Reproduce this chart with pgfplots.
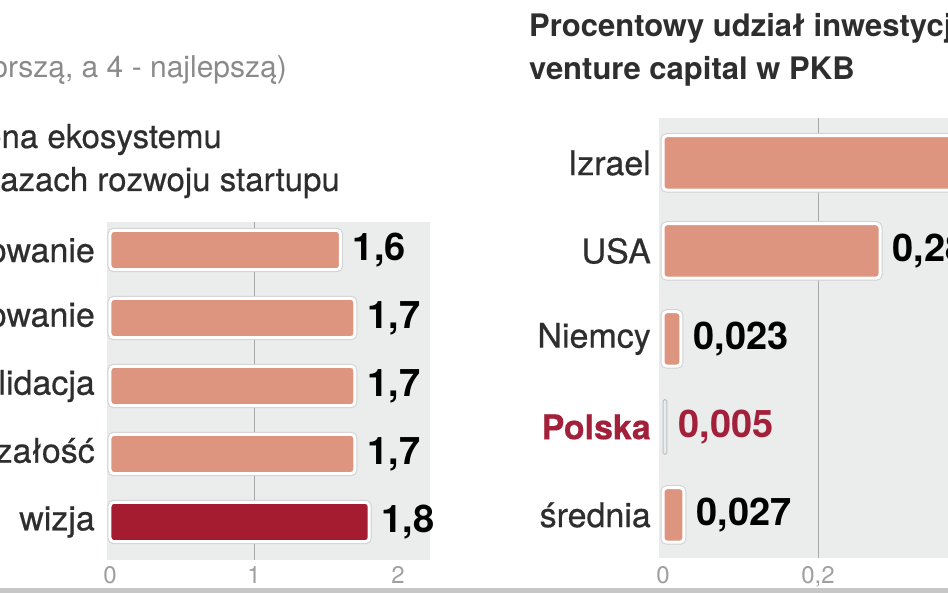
\documentclass[border=0pt]{standalone}
\usepackage{pgfplots}
\pgfplotsset{compat=1.18}
\usepackage{fontspec}
\setmainfont{TeX Gyre Heros}
\newfontfamily\medium{TeX Gyre Heros}[FakeBold=0.5]

\definecolor{salmon}{HTML}{DE957F}
\definecolor{wine}{HTML}{A51B2F}
\definecolor{panelbg}{HTML}{EBECEC}
\definecolor{gridc}{HTML}{A8A8A8}
\definecolor{tickc}{HTML}{A0A0A0}
\definecolor{txt}{HTML}{2E2E2E}
\definecolor{polred}{HTML}{A3203A}
\definecolor{subc}{HTML}{8A8A8A}
\definecolor{palebar}{HTML}{E6ECEF}

\pgfplotsset{
  panel/.style={
    scale only axis, xbar, clip=false,
    axis background/.style={fill=panelbg},
    axis line style={draw=none}, major tick length=0pt,
    tick label style={inner sep=0pt},
    x tick label style={font=\fontsize{24}{24}\selectfont, text=tickc, anchor=north},
    y tick label style={font=\medium\fontsize{34}{34}\selectfont, text=txt, anchor=east},
    ytick={0,...,4},
    major grid style={draw=gridc, line width=1pt},
    extra x tick style={grid=major},
    extra x tick labels={},
    nodes near coords, point meta=explicit symbolic,
    every node near coord/.append style={anchor=west, inner sep=0pt, xshift=11pt,
      font=\bfseries\fontsize{38}{38}\selectfont, text=black},
  },
  bars/.style={bar shift=0pt, fill=salmon, draw=white, line width=3pt,
    rounded corners=4pt, preaction={draw=black!18, line width=5pt}},
}

\begin{document}
\begin{tikzpicture}[x=1pt, y=1pt, trim left=0pt, trim right=948pt]
\path (0,0) rectangle (948,593);
\clip (0,0) rectangle (948,593);

% left panel titles
\node[anchor=base east, text=subc, font=\fontsize{30}{30}\selectfont, inner sep=0pt]
  at (287,515) {(1 oznacza najgorszą, a 4 - najlepszą)};
\node[anchor=base east, text=txt, font=\medium\fontsize{33}{33}\selectfont, inner sep=0pt]
  at (222,445) {Ocena ekosystemu};
\node[anchor=base east, text=txt, font=\medium\fontsize{33}{33}\selectfont, inner sep=0pt]
  at (340,402) {w fazach rozwoju startupu};

% right panel title
\node[anchor=base west, text=txt, font=\bfseries\fontsize{31}{31}\selectfont, inner sep=0pt]
  at (529,556) {Procentowy udział inwestycji};
\node[anchor=base west, text=txt, font=\bfseries\fontsize{31}{31}\selectfont, inner sep=0pt]
  at (529,513) {venture capital w PKB};

\begin{axis}[panel,
  at={(107pt,33pt)}, anchor=south west, width=323pt, height=338pt,
  xmin=-0.0208, xmax=2.222, ymin=-0.559, ymax=4.412,
  bar width=0.58,
  xtick={0,1,2}, xticklabels={0,1,2},
  x tick label style={yshift=-6pt},
  extra x ticks={1},
  yticklabels={wizja, dojrzałość, walidacja, dopasowanie, skalowanie},
  y tick label style={xshift=-12pt},
]
\addplot[bars] coordinates {
  (1.7,1) [1,7]
  (1.7,2) [1,7]
  (1.7,3) [1,7]
  (1.6,4) [1,6]
};
\addplot[bars, fill=wine] coordinates {
  (1.8,0) [1,8]
};
\end{axis}

\begin{axis}[panel,
  at={(659pt,35pt)}, anchor=south west, width=301pt, height=440pt,
  xmin=-0.00516, xmax=0.3832, ymin=-0.489, ymax=4.511,
  bar width=0.62,
  xtick={0,0.2}, xticklabels={0,{0,2}},
  x tick label style={yshift=-8pt},
  extra x ticks={0.2},
  yticklabels={średnia, \bfseries\textcolor{polred}{Polska}, Niemcy, USA, Izrael},
  y tick label style={xshift=-8pt},
]
\addplot[bars] coordinates {
  (0.027,0) [0,027]
  (0.023,2) [0,023]
  (0.28,3) [0,28]
  (0.38,4) [0,38]
};
\addplot[bar shift=0pt, fill=palebar, draw=black!25, line width=1pt,
  rounded corners=1.5pt, nodes near coords style={text=polred}] coordinates {
  (0.005,1) [0,005]
};
\end{axis}

% bottom rule
\fill[black!22] (0,0) rectangle (948,5);
\end{tikzpicture}
\end{document}
